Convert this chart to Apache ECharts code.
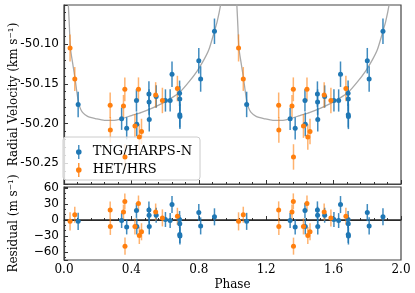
<!DOCTYPE html>
<html><head><meta charset="utf-8">
<script src="https://cdn.jsdelivr.net/npm/echarts@6/dist/echarts.min.js"></script>
<style>html,body{margin:0;padding:0;background:#fff}#c{width:415px;height:293px}</style>
</head><body><div id="c"></div>
<script>
// TNG/HARPS-N
const tngPhase = [0.084,0.342,0.372,0.430,0.432,0.504,0.505,0.506,0.547,0.602,0.630,0.641,0.686,0.687,0.687,0.688,0.800,0.811,0.893];
const tngRv    = [-50.176,-50.194,-50.206,-50.171,-50.201,-50.163,-50.173,-50.195,-50.166,-50.171,-50.171,-50.138,-50.162,-50.169,-50.189,-50.191,-50.121,-50.144,-50.084];
const tngErr   = [0.016,0.014,0.014,0.014,0.015,0.016,0.016,0.015,0.014,0.014,0.014,0.016,0.016,0.016,0.016,0.016,0.016,0.016,0.016];
const tngRes   = [-2.5,-1,-13,18,-12,19,9,-12,9,1,-1,29,1,-7,-27,-30,14,-11,6];
// HET/HRS
const hetPhase = [0.036,0.064,0.274,0.275,0.353,0.361,0.362,0.421,0.442,0.447,0.460,0.544,0.584,0.673];
const hetRv    = [-50.105,-50.144,-50.177,-50.208,-50.178,-50.157,-50.242,-50.203,-50.157,-50.217,-50.210,-50.164,-50.171,-50.156];
const hetErr   = [0.017,0.015,0.016,0.016,0.014,0.015,0.016,0.015,0.015,0.016,0.016,0.016,0.016,0.016];
const hetRes   = [-2.5,10,19,-12,15,35,-49,-12,31,-29,-22,15,4,7];
// Orbit model (one period)
const modelPhase = [0.000,0.010,0.020,0.026,0.032,0.038,0.052,0.066,0.076,0.085,0.095,0.110,0.140,0.190,0.240,0.290,0.340,0.400,0.460,0.520,0.580,0.630,0.690,0.740,0.790,0.830,0.860,0.890,0.910,0.930,0.950,0.970,0.990];
const modelRv    = [-49.90,-49.97,-50.03,-50.052,-50.078,-50.105,-50.125,-50.144,-50.160,-50.172,-50.180,-50.186,-50.191,-50.194,-50.196,-50.196,-50.194,-50.190,-50.186,-50.181,-50.175,-50.169,-50.160,-50.148,-50.134,-50.120,-50.107,-50.086,-50.071,-50.050,-50.020,-49.970,-49.890];
const yTicksTop = [-50.25,-50.20,-50.15,-50.10];
const periods = [0, 1];

const BLUE = '#1f77b4', ORANGE = '#ff7f0e';
const serif = 'DejaVu Serif', sans = 'DejaVu Sans';

function pts(ph, vals){ const out=[]; periods.forEach(k=>ph.forEach((p,i)=>out.push([p+k, vals[i]]))); return out; }
function bars(ph, vals, errs, scale){ const out=[]; periods.forEach(k=>ph.forEach((p,i)=>out.push([p+k, vals[i]-errs[i]*scale, vals[i]+errs[i]*scale]))); return out; }
function errSeries(data, color, op, gi){
  return {type:'custom', name:'err'+gi+color, xAxisIndex:gi, yAxisIndex:gi, silent:true, z:3,
    data, encode:{x:0, y:[1,2]},
    renderItem:(params, api)=>{
      const a=api.coord([api.value(0), api.value(1)]), b=api.coord([api.value(0), api.value(2)]);
      return {type:'line', shape:{x1:a[0],y1:a[1],x2:b[0],y2:b[1]}, style:{stroke:color, lineWidth:1.5, opacity:op}};
    }};
}
const model=[]; periods.forEach(k=>modelPhase.forEach((p,i)=>model.push([p+k, modelRv[i]]))); model.push([2.0, modelRv[0]]);

const tick = {inside:true, length:4, lineStyle:{color:'#333'}};
const minor = (n)=>({show:true, splitNumber:n, length:2, lineStyle:{color:'#333'}});
const xBase = {type:'value', min:0, max:2, interval:0.4, axisLine:{show:true, lineStyle:{color:'#444', width:1.2}}, axisTick:tick, minorTick:minor(5), splitLine:{show:false}};
const legendIcon = 'path://M2.4,0H3.6V14H2.4Z M3,4.2A2.8,2.8 0 1 1 2.999,4.2Z';

const chart = echarts.init(document.getElementById('c'), null, {renderer:'canvas'});
chart.setOption({
  animation:false,
  grid:[
    {left:60, right:14, top:5, height:179, show:true, borderColor:'#444', borderWidth:1.2},
    {left:60, right:14, top:187, height:73, show:true, borderColor:'#444', borderWidth:1.2}
  ],
  xAxis:[
    Object.assign({gridIndex:0, axisLabel:{show:false}}, xBase),
    Object.assign({gridIndex:1, name:'Phase', nameLocation:'middle', nameGap:19,
      nameTextStyle:{fontFamily:serif, fontSize:12, color:'#000'},
      axisLabel:{fontFamily:serif, fontSize:12, color:'#000', margin:4, formatter:v=>v.toFixed(1)}}, xBase)
  ],
  yAxis:[
    {gridIndex:0, type:'value', min:-50.276, max:-50.051,
     name:'Radial Velocity (km s⁻¹)', nameLocation:'middle', nameGap:44, nameMoveOverlap:false,
     nameTextStyle:{fontFamily:serif, fontSize:12, color:'#000'},
     axisLine:{show:true, lineStyle:{color:'#444', width:1.2}}, axisTick:tick, minorTick:minor(5), splitLine:{show:false},
     axisLabel:{fontFamily:sans, fontSize:12, color:'#000', margin:5, showMinLabel:false, showMaxLabel:false, hideOverlap:false,
       formatter:v=>{ const t=yTicksTop.find(u=>Math.abs(u-v)<1e-6); return t===undefined?'':t.toFixed(2);} }},
    {gridIndex:1, type:'value', min:-75, max:62,
     name:'Residual (m s⁻¹)', nameLocation:'middle', nameGap:44, nameMoveOverlap:false,
     nameTextStyle:{fontFamily:serif, fontSize:12, color:'#000'},
     axisLine:{show:true, lineStyle:{color:'#444', width:1.2}}, axisTick:tick, minorTick:minor(3), splitLine:{show:false},
     axisLabel:{fontFamily:sans, fontSize:12, color:'#000', margin:5, showMinLabel:false, showMaxLabel:false, formatter:v=>v<0?'\u2212'+Math.abs(v):String(v)}}
  ],
  legend:{
    left:63, top:137, orient:'vertical', itemGap:2, padding:[7,8,2,13],
    backgroundColor:'rgba(255,255,255,0.8)', borderColor:'#ccc', borderWidth:1, borderRadius:3,
    itemWidth:6, itemHeight:14, itemStyle:{borderWidth:0},
    textStyle:{fontFamily:serif, fontSize:13, lineHeight:16, color:'#000', padding:[0,0,0,6]},
    data:[{name:'TNG/HARPS-N', icon:legendIcon}, {name:'HET/HRS', icon:legendIcon}]
  },
  series:[
    {type:'line', name:'model', xAxisIndex:0, yAxisIndex:0, data:model, showSymbol:false, symbol:'none', smooth:0.25, clip:true,
     lineStyle:{color:'#a9a9a9', width:1.3}, z:1, silent:true},
    {type:'line', name:'zero', xAxisIndex:1, yAxisIndex:1, data:[[0,0],[2,0]], symbol:'none', lineStyle:{color:'#222', width:1.4}, z:1, silent:true},
    errSeries(bars(tngPhase, tngRv, tngErr, 1), BLUE, 0.85, 0),
    errSeries(bars(hetPhase, hetRv, hetErr, 1), ORANGE, 0.6, 0),
    errSeries(bars(tngPhase, tngRes, tngErr, 1000), BLUE, 0.85, 1),
    errSeries(bars(hetPhase, hetRes, hetErr, 1000), ORANGE, 0.6, 1),
    {type:'scatter', name:'TNG/HARPS-N', xAxisIndex:0, yAxisIndex:0, data:pts(tngPhase, tngRv), symbol:'circle', symbolSize:5, itemStyle:{color:BLUE, opacity:1}, z:4},
    {type:'scatter', name:'HET/HRS', xAxisIndex:0, yAxisIndex:0, data:pts(hetPhase, hetRv), symbol:'circle', symbolSize:5, itemStyle:{color:ORANGE, opacity:1}, z:4},
    {type:'scatter', name:'TNG/HARPS-N', xAxisIndex:1, yAxisIndex:1, data:pts(tngPhase, tngRes), symbol:'circle', symbolSize:5, itemStyle:{color:BLUE, opacity:1}, z:4},
    {type:'scatter', name:'HET/HRS', xAxisIndex:1, yAxisIndex:1, data:pts(hetPhase, hetRes), symbol:'circle', symbolSize:5, itemStyle:{color:ORANGE, opacity:1}, z:4}
  ]
});
</script></body></html>
